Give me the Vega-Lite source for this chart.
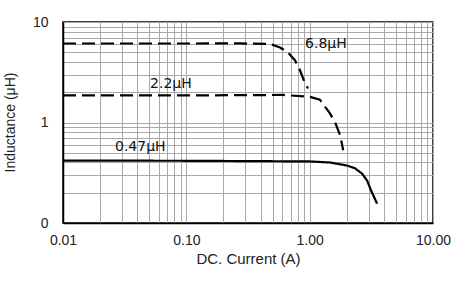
{
  "$schema": "https://vega.github.io/schema/vega-lite/v6.json",
  "width": 370,
  "height": 201,
  "autosize": {"type": "none"},
  "padding": {"left": 63, "top": 22, "right": 34, "bottom": 70},
  "background": "white",
  "config": {
    "view": {"stroke": "#000", "strokeWidth": 1.5},
    "font": "Liberation Sans"
  },
  "datasets": {
    "curves": [
      {"series": "6.8", "current": 0.01, "L": 6.11},
      {"series": "6.8", "current": 0.1, "L": 6.11},
      {"series": "6.8", "current": 0.273, "L": 6.12},
      {"series": "6.8", "current": 0.477, "L": 6.04},
      {"series": "6.8", "current": 0.575, "L": 5.58},
      {"series": "6.8", "current": 0.668, "L": 4.97},
      {"series": "6.8", "current": 0.762, "L": 4.14},
      {"series": "6.8", "current": 0.836, "L": 3.29},
      {"series": "6.8", "current": 0.918, "L": 2.44},
      {"series": "6.8", "current": 0.971, "L": 2.18},
      {"series": "2.2", "current": 0.01, "L": 1.86},
      {"series": "2.2", "current": 0.1, "L": 1.86},
      {"series": "2.2", "current": 0.608, "L": 1.88},
      {"series": "2.2", "current": 1.01, "L": 1.8},
      {"series": "2.2", "current": 1.21, "L": 1.69},
      {"series": "2.2", "current": 1.46, "L": 1.23},
      {"series": "2.2", "current": 1.61, "L": 1.0},
      {"series": "2.2", "current": 1.77, "L": 0.74},
      {"series": "2.2", "current": 1.87, "L": 0.53},
      {"series": "0.47", "current": 0.01, "L": 0.418},
      {"series": "0.47", "current": 0.1, "L": 0.416},
      {"series": "0.47", "current": 1.0, "L": 0.41},
      {"series": "0.47", "current": 1.46, "L": 0.4},
      {"series": "0.47", "current": 2.01, "L": 0.373},
      {"series": "0.47", "current": 2.33, "L": 0.35},
      {"series": "0.47", "current": 2.66, "L": 0.31},
      {"series": "0.47", "current": 2.92, "L": 0.265},
      {"series": "0.47", "current": 3.15, "L": 0.21},
      {"series": "0.47", "current": 3.52, "L": 0.156}
    ],
    "labels": [
      {"label": "6.8μH", "current": 0.918, "L": 5.98},
      {"label": "2.2μH", "current": 0.0508, "L": 2.44},
      {"label": "0.47μH", "current": 0.0264, "L": 0.564}
    ]
  },
  "layer": [
    {
      "data": {"name": "curves"},
      "mark": {"type": "line", "strokeWidth": 2.2, "color": "#000", "clip": true},
      "encoding": {
        "x": {
          "field": "current", "type": "quantitative",
          "scale": {"type": "log", "domain": [0.01, 10], "nice": false},
          "axis": {
            "title": "DC. Current (A)",
            "values": [0.01,0.02,0.03,0.04,0.05,0.06,0.07,0.08,0.09,0.1,0.2,0.3,0.4,0.5,0.6,0.7,0.8,0.9,1,2,3,4,5,6,7,8,9,10],
            "labelExpr": "datum.value == 0.01 ? '0.01' : datum.value == 0.1 ? '0.10' : datum.value == 1 ? '1.00' : datum.value == 10 ? '10.00' : ''",
            "grid": true, "gridColor": "#a8a8a8", "gridWidth": 1, "gridOpacity": 1,
            "ticks": false, "tickSize": 0,
            "domainColor": "#000", "domainWidth": 1.5,
            "labelFontSize": 14, "labelColor": "#222", "labelPadding": 10,
            "labelFlush": false, "labelOverlap": false,
            "titleFontSize": 15, "titleFontWeight": "normal", "titleColor": "#222",
            "titleY": 40, "titleBaseline": "alphabetic"
          }
        },
        "y": {
          "field": "L", "type": "quantitative",
          "scale": {"type": "log", "domain": [0.1, 10], "nice": false},
          "axis": {
            "title": "Inductance (μH)",
            "values": [0.1,0.2,0.3,0.4,0.5,0.6,0.7,0.8,0.9,1,2,3,4,5,6,7,8,9,10],
            "labelExpr": "datum.value == 10 ? '10' : datum.value == 1 ? '1' : datum.value == 0.1 ? '0' : ''",
            "grid": true, "gridColor": "#a8a8a8", "gridWidth": 1, "gridOpacity": 1,
            "ticks": false, "tickSize": 0,
            "domainColor": "#000", "domainWidth": 1.5,
            "labelFontSize": 14, "labelColor": "#222", "labelPadding": 15,
            "labelFlush": false, "labelOverlap": false,
            "titleFontSize": 14, "titleFontWeight": "normal", "titleColor": "#222",
            "titleX": -49, "titleY": 100, "titleAngle": -90, "titleAlign": "center", "titleBaseline": "alphabetic"
          }
        },
        "detail": {"field": "series"},
        "strokeDash": {
          "field": "series", "type": "nominal",
          "scale": {"domain": ["6.8", "2.2", "0.47"], "range": [[13, 6], [13, 6], [1, 0]]},
          "legend": null
        }
      }
    },
    {
      "data": {"name": "labels"},
      "mark": {"type": "text", "align": "left", "baseline": "middle", "font": "DejaVu Sans", "fontSize": 14, "color": "#111"},
      "encoding": {
        "x": {"field": "current", "type": "quantitative"},
        "y": {"field": "L", "type": "quantitative"},
        "text": {"field": "label"}
      }
    }
  ]
}
